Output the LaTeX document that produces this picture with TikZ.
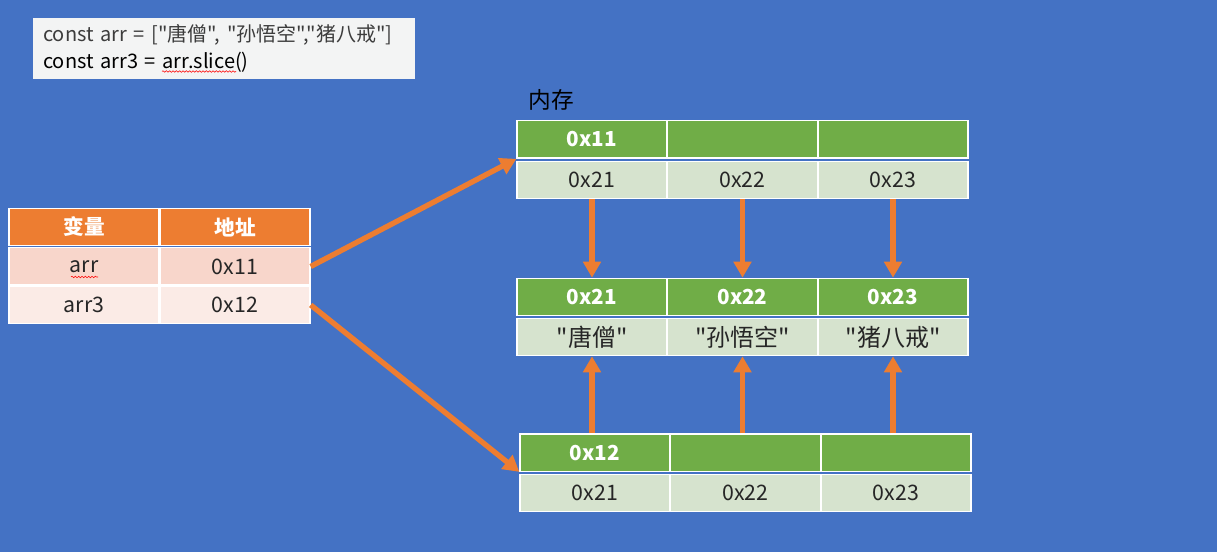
\documentclass[tikz,border=0pt]{standalone}
\usepackage{fontspec}
\newfontfamily\cjk{Noto Sans CJK SC}
\usetikzlibrary{arrows.meta}
\usetikzlibrary{decorations.pathmorphing}
\definecolor{bgblue}{HTML}{4472C4}
\definecolor{ptrorange}{HTML}{ED7D31}
\definecolor{rowone}{HTML}{F8D6CB}
\definecolor{rowtwo}{HTML}{FBEBE6}
\definecolor{memgreen}{HTML}{70AD47}
\definecolor{memlight}{HTML}{D6E3CE}
\definecolor{codebg}{HTML}{F3F4F4}
\definecolor{codegray}{HTML}{3C3C3C}

\tikzset{
    cell/.style={draw=white, line width=1pt, minimum width=112.5pt,
        minimum height=28pt, inner sep=0pt},
    headcell/.style={cell, fill=memgreen, text=white,
        font=\fontsize{15.5}{18}\selectfont\bfseries},
    valcell/.style={cell, fill=memlight, text=black!85,
        font=\fontsize{16}{19}\selectfont},
    namecell/.style={valcell, font=\fontsize{18}{21}\selectfont},
    varhead/.style={cell, fill=ptrorange, text=white,
        font=\fontsize{15.5}{18}\selectfont\bfseries},
    ptr/.style={draw=ptrorange, line width=4pt,
        -{Triangle[length=12pt, width=13pt]}},
    squiggle/.style={draw=red, line width=0.4pt, decorate,
        decoration={snake, amplitude=0.6pt, segment length=2.5pt}}
}

\begin{document}
\cjk
\begin{tikzpicture}[x=0.75pt, y=-0.75pt]
    \fill[color=bgblue] (0,0) rectangle (1217,552);
    \useasboundingbox (0,0) rectangle (1217,552);

    \node[fill=codebg, anchor=north west, text width=271.5pt, inner xsep=7.5pt,
        minimum height=45.75pt, align=left,
        font=\fontsize{15}{20.25}\selectfont] (code) at (33,18)
        {\textcolor{codegray}{const arr = ["唐僧", "孙悟空","猪八戒"]}\\
         const arr3 = arr.slice()};
    \draw[squiggle] (162,71.5) -- (236,71.5);

    \node[varhead] (vh1) at (84,227) {变量};
    \node[varhead] (vh2) at (235,227) {地址};
    \node[valcell, fill=rowone] (va1) at (84,266.5) {arr};
    \node[valcell, fill=rowone] (va2) at (235,266.5) {0x11};
    \node[valcell, fill=rowtwo] (vb1) at (84,305) {arr3};
    \node[valcell, fill=rowtwo] (vb2) at (235,305) {0x12};
    \draw[squiggle] (71,277) -- (98,277);

    \node[anchor=west, font=\fontsize{17}{20}\selectfont] (mem) at (524,100) {内存};

    \node[headcell] (t1) at (592,139.5) {0x11};
    \node[headcell] (t2) at (742.5,139.5) {};
    \node[headcell] (t3) at (893,139.5) {};
    \node[valcell] (tv1) at (592,180) {0x21};
    \node[valcell] (tv2) at (742.5,180) {0x22};
    \node[valcell] (tv3) at (893,180) {0x23};

    \node[headcell] (m1) at (592,297) {0x21};
    \node[headcell] (m2) at (742.5,297) {0x22};
    \node[headcell] (m3) at (893,297) {0x23};
    \node[namecell] (mv1) at (592,337) {"唐僧"};
    \node[namecell] (mv2) at (742.5,337) {"孙悟空"};
    \node[namecell] (mv3) at (893,337) {"猪八戒"};

    \node[headcell] (b1) at (595,452.5) {0x12};
    \node[headcell] (b2) at (745.5,452.5) {};
    \node[headcell] (b3) at (896,452.5) {};
    \node[valcell] (bv1) at (595,493) {0x21};
    \node[valcell] (bv2) at (745.5,493) {0x22};
    \node[valcell] (bv3) at (896,493) {0x23};

    \draw[ptr] (va2.east) -- (t1.south west);
    \draw[ptr] (vb2.east) -- (b1.south west);

    \draw[ptr] (tv1.south) -- (m1.north);
    \draw[ptr] (tv2.south) -- (m2.north);
    \draw[ptr] (tv3.south) -- (m3.north);

    \draw[ptr] (mv1.south |- b1.north) -- (mv1.south);
    \draw[ptr] (mv2.south |- b2.north) -- (mv2.south);
    \draw[ptr] (mv3.south |- b3.north) -- (mv3.south);
\end{tikzpicture}
\end{document}
